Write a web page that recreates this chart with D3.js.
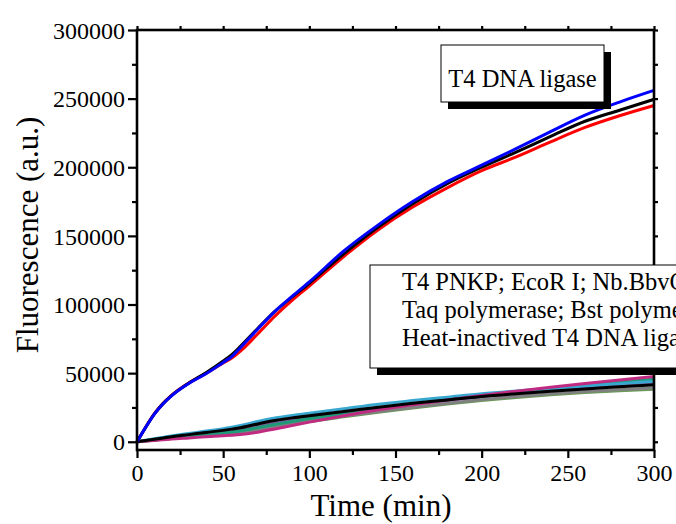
<!DOCTYPE html>
<html>
<head>
<meta charset="utf-8">
<script src="https://cdn.jsdelivr.net/npm/d3@7/dist/d3.min.js"></script>
<style>
  body { margin: 0; background: #fff; }
  svg text { font-family: "Liberation Serif", serif; fill: #000; }
</style>
</head>
<body>
<div class="chart"></div>
<script>
// sampling times (min)
const time = [0, 5, 10, 15, 20, 30, 40, 50, 55, 60, 70, 80, 90, 100, 120, 140, 160, 180, 200, 220, 240, 260, 280, 300];

// T4 DNA ligase (three repeats)
const ligaseBlue  = [0, 10500, 20000, 27500, 33500, 42500, 49500, 57800, 62000, 68500, 82000, 95000, 106000, 116500, 139000, 158000, 175000, 189500, 201500, 213500, 226000, 238000, 247500, 256000];
const ligaseBlack = [0, 10400, 20100, 27600, 33600, 42700, 50200, 58800, 63500, 69500, 82500, 95000, 105500, 115500, 137000, 156500, 173500, 188000, 200000, 211000, 222500, 233500, 241500, 249500];
const ligaseRed   = [0, 10600, 20300, 27800, 33800, 42800, 49800, 57500, 61000, 66000, 78500, 91500, 103000, 113500, 135000, 154500, 171000, 185000, 197500, 207500, 218500, 229000, 237500, 245000];

// controls: other enzymes and heat-inactivated ligase
const ctrlOlive   = [0, 600, 1200, 1800, 2300, 3300, 4300, 5300, 5900, 6600, 8600, 10700, 12700, 14700, 18200, 21500, 24600, 27500, 30000, 32300, 34300, 35900, 37100, 38200];
const ctrlGray    = [0, 600, 1200, 1800, 2400, 3500, 4600, 5700, 6300, 7000, 9000, 11200, 13200, 15200, 18700, 22000, 25100, 28000, 30700, 33000, 35000, 36700, 38000, 39300];
const ctrlPurple  = [0, 800, 1600, 2300, 3000, 4300, 5600, 6900, 7700, 8600, 11200, 13700, 15800, 17700, 21000, 24500, 27500, 30200, 32800, 35200, 37400, 39400, 41200, 43000];
const ctrlTeal    = [0, 700, 1400, 2100, 2800, 4000, 5200, 6400, 7100, 7900, 10200, 12600, 14800, 16900, 20600, 24300, 27700, 30800, 33700, 36400, 39000, 41400, 43600, 45600];
const ctrlCyan    = [0, 1100, 2200, 3200, 4200, 6000, 7800, 9500, 10600, 11800, 14800, 17300, 19200, 20800, 24000, 27300, 30000, 32500, 35000, 37000, 38800, 40600, 42300, 44000];
const ctrlMagenta = [0, 500, 1000, 1500, 2000, 2800, 3600, 4400, 4800, 5300, 7000, 9300, 11800, 14300, 19000, 23300, 27000, 30500, 33800, 36800, 39700, 42400, 45000, 47500];
const ctrlBlack   = [0, 900, 1800, 2700, 3600, 5200, 6800, 8300, 9200, 10200, 13000, 15500, 17400, 19000, 22000, 25200, 28000, 30500, 33000, 35000, 36800, 38500, 40000, 41500];

const xMajor = [0, 50, 100, 150, 200, 250, 300];
const xMinor = [25, 75, 125, 175, 225, 275];
const yMajor = [0, 50000, 100000, 150000, 200000, 250000, 300000];
const yMinor = [25000, 75000, 125000, 175000, 225000, 275000];

const legendTop = ["T4 DNA ligase"];
const legendBottom = ["T4 PNKP; EcoR I; Nb.BbvC I", "Taq polymerase; Bst polymerase", "Heat-inactived T4 DNA ligase"];

const series = [
  { v: ctrlOlive, color: "#6a9a58" },
  { v: ctrlGray, color: "#808080" },
  { v: ctrlPurple, color: "#7a5a9c" },
  { v: ctrlTeal, color: "#1e9a78" },
  { v: ctrlCyan, color: "#38a8d0" },
  { v: ctrlMagenta, color: "#c02a80" },
  { v: ctrlBlack, color: "#000000" },
  { v: ligaseRed, color: "#ff0000" },
  { v: ligaseBlack, color: "#000000" },
  { v: ligaseBlue, color: "#0000ff" }
];

const W = 676, H = 524;
const plot = { left: 137, right: 654, top: 30, bottom: 450 };
const serif = '"Liberation Serif", serif';

const svg = d3.select("div.chart").append("svg")
    .attr("width", W)
    .attr("height", H)
    .attr("font-family", serif);

svg.append("rect").attr("width", W).attr("height", H).attr("fill", "#fff");

const x = d3.scaleLinear().domain([0, 300]).range([plot.left, plot.right]);
const y = d3.scaleLinear().domain([-6000, 300000]).range([plot.bottom, plot.top]);

const line = d3.line()
    .x((d, i) => x(time[i]))
    .y(d => y(d))
    .curve(d3.curveMonotoneX);

svg.append("g").selectAll("path")
    .data(series)
    .enter().append("path")
    .attr("d", d => line(d.v))
    .attr("fill", "none")
    .attr("stroke", d => d.color)
    .attr("stroke-width", 3)
    .attr("stroke-linejoin", "round");

// frame
svg.append("rect")
    .attr("x", plot.left).attr("y", plot.top)
    .attr("width", plot.right - plot.left).attr("height", plot.bottom - plot.top)
    .attr("fill", "none")
    .attr("stroke", "#000")
    .attr("stroke-width", 2.6);

function styleAxis(g, size) {
  g.attr("font-family", serif);
  g.select(".domain").remove();
  g.selectAll(".tick line").attr("stroke", "#000").attr("stroke-width", 2.2);
  g.selectAll(".tick text").attr("font-size", size).attr("fill", "#000")
    .style("font-family", serif);
}

// bottom axis
svg.append("g")
    .attr("transform", `translate(0,${plot.bottom})`)
    .call(d3.axisBottom(x).tickValues(xMajor).tickSize(8).tickPadding(6).tickFormat(d3.format("d")))
    .call(g => styleAxis(g, 24))
    .call(g => g.selectAll(".tick text").attr("y", 31).attr("dy", 0));
svg.append("g")
    .attr("transform", `translate(0,${plot.bottom})`)
    .call(d3.axisBottom(x).tickValues(xMinor).tickSize(5).tickFormat(""))
    .call(g => styleAxis(g, 24));

// left axis
svg.append("g")
    .attr("transform", `translate(${plot.left},0)`)
    .call(d3.axisLeft(y).tickValues(yMajor).tickSize(9).tickPadding(3).tickFormat(d3.format("d")))
    .call(g => styleAxis(g, 24))
    .call(g => g.selectAll(".tick text").attr("dy", "0.34em"));
svg.append("g")
    .attr("transform", `translate(${plot.left},0)`)
    .call(d3.axisLeft(y).tickValues(yMinor).tickSize(5).tickFormat(""))
    .call(g => styleAxis(g, 24));

// top and right mirrored ticks
svg.append("g")
    .attr("transform", `translate(0,${plot.top})`)
    .call(d3.axisTop(x).tickValues(xMajor.concat(xMinor)).tickSize(4).tickFormat(""))
    .call(g => styleAxis(g, 24));
svg.append("g")
    .attr("transform", `translate(${plot.right},0)`)
    .call(d3.axisRight(y).tickValues(yMajor.concat(yMinor)).tickSize(4).tickFormat(""))
    .call(g => styleAxis(g, 24));

// axis titles
svg.append("text")
    .attr("x", 381).attr("y", 516)
    .attr("text-anchor", "middle")
    .attr("font-size", 31)
    .text("Time (min)");

svg.append("text")
    .attr("transform", "translate(38,235) rotate(-90)")
    .attr("text-anchor", "middle")
    .attr("font-size", 31)
    .text("Fluorescence (a.u.)");

// legend boxes with drop shadows
function legendBox(bx, by, bw, bh, lines, tx, ty, step, anchor) {
  const g = svg.append("g");
  g.append("rect").attr("x", bx + 7).attr("y", by + 7).attr("width", bw).attr("height", bh).attr("fill", "#000");
  g.append("rect").attr("x", bx).attr("y", by).attr("width", bw).attr("height", bh)
    .attr("fill", "#fff").attr("stroke", "#000").attr("stroke-width", 1);
  g.selectAll("text").data(lines).enter().append("text")
    .attr("x", tx)
    .attr("y", (d, i) => ty + i * step)
    .attr("text-anchor", anchor)
    .attr("font-size", 24.5)
    .text(d => d);
}

legendBox(441, 45, 163, 57, legendTop, 522.5, 87, 0, "middle");
legendBox(370, 265, 340, 103, legendBottom, 402, 290, 28, "start");
</script>
</body>
</html>
